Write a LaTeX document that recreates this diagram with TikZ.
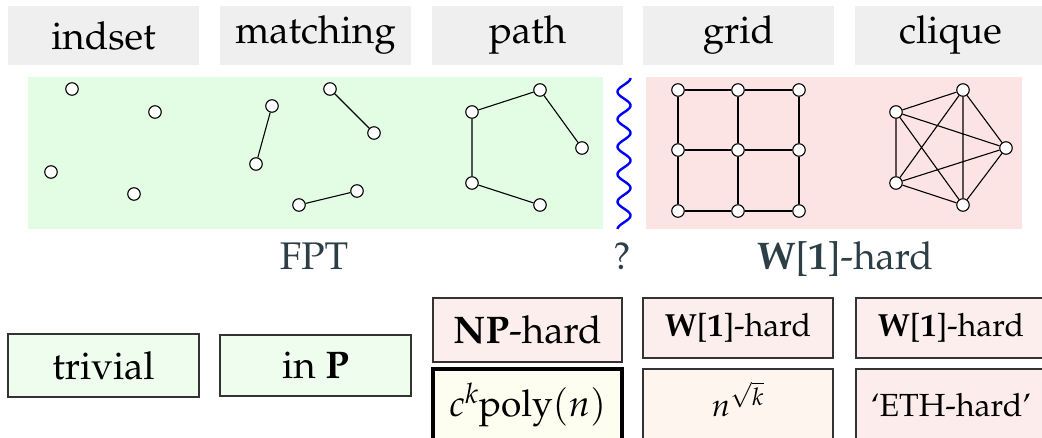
\documentclass[tikz,border=0pt]{standalone}
\usepackage[T1]{fontenc}
\usepackage{mathpazo}
\definecolor{hdrgray}{RGB}{239,239,239}
\definecolor{fptgreen}{RGB}{227,252,228}
\definecolor{hardred}{RGB}{253,228,228}
\definecolor{trivgreen}{RGB}{239,253,239}
\definecolor{nppink}{RGB}{253,238,238}
\definecolor{ivory}{RGB}{254,254,240}
\definecolor{seashell}{RGB}{254,245,239}
\definecolor{ethpink}{RGB}{253,236,236}
\definecolor{bordergray}{RGB}{51,51,51}
\definecolor{slate}{RGB}{44,62,70}
\newcommand{\bigfont}{\fontsize{38.5}{42}\selectfont}
\newcommand{\mathfont}{\fontsize{37}{40}\selectfont}
\newcommand{\smallfont}{\fontsize{32}{35}\selectfont}
\begin{document}
\begin{tikzpicture}[x=1pt,y=-1pt,
  hdr/.style={fill=hdrgray, minimum width=191pt, minimum height=59pt, inner sep=0pt, font=\bigfont},
  gv/.style={circle, draw=black, fill=white, minimum size=12.5pt, inner sep=0pt, line width=1.1pt},
  ge/.style={line width=1.1pt},
  res/.style={draw=bordergray, line width=2.6pt, inner sep=0pt, minimum width=189pt},
  low/.style={minimum height=74pt, text height=30pt, text depth=8pt},
  lbl/.style={text=slate, font=\bigfont, anchor=base}]
\useasboundingbox (0,0) rectangle (1042,438);
% headers
\node[hdr] (h1) at (103.5,35.5) {indset};
\node[hdr] (h2) at (315.5,35.5) {matching};
\node[hdr] (h3) at (527.5,35.5) {path};
\node[hdr] (h4) at (738.5,35.5) {grid};
\node[hdr] (h5) at (950.5,35.5) {clique};
% regions
\fill[fptgreen] (28,77) rectangle (603,229);
\fill[hardred] (646,77) rectangle (1022,229);
% wave
\draw[blue, line width=2.4pt] plot[domain=78:229, samples=160, variable=\t] ({624+6.5*sin((\t-78)*13.09+90)}, \t);
% indset
\node[gv] (i1) at (72,89) {};
\node[gv] (i2) at (155,112) {};
\node[gv] (i3) at (51,172) {};
\node[gv] (i4) at (134,194) {};
% matching
\node[gv] (m1) at (272,106) {};
\node[gv] (m2) at (256,164) {};
\node[gv] (m3) at (330,89) {};
\node[gv] (m4) at (374,133) {};
\node[gv] (m5) at (299,205) {};
\node[gv] (m6) at (357,191) {};
\draw[ge] (m1) -- (m2) (m3) -- (m4) (m5) -- (m6);
% path
\node[gv] (p1) at (472,112) {};
\node[gv] (p2) at (540,90) {};
\node[gv] (p3) at (582,148) {};
\node[gv] (p4) at (472,183) {};
\node[gv] (p5) at (540,205) {};
\draw[ge] (p3) -- (p2) -- (p1) -- (p4) -- (p5);
% grid
\foreach \c/\x in {1/678,2/738,3/799}{
  \foreach \r/\y in {1/90,2/150,3/211}{
    \node[gv] (g\c\r) at (\x,\y) {};
  }
}
\draw[ge] (g11) -- (g21) -- (g31) (g12) -- (g22) -- (g32) (g13) -- (g23) -- (g33)
          (g11) -- (g12) -- (g13) (g21) -- (g22) -- (g23) (g31) -- (g32) -- (g33);
% clique
\node[gv] (c1) at (963,90) {};
\node[gv] (c2) at (896,112) {};
\node[gv] (c3) at (1006,148) {};
\node[gv] (c4) at (896,183) {};
\node[gv] (c5) at (963,205) {};
\draw[ge] (c1) -- (c2) (c1) -- (c3) (c1) -- (c4) (c1) -- (c5)
          (c2) -- (c3) (c2) -- (c4) (c2) -- (c5)
          (c3) -- (c4) (c3) -- (c5) (c4) -- (c5);
% labels
\node[lbl] (fpt) at (314,270) {FPT};
\node[lbl] (q) at (622,270) {?};
\node[lbl] (w1) at (845,270) {\textbf{W}[\textbf{1}]-hard};
% results
\node[res, fill=trivgreen, minimum width=191pt, minimum height=63pt, font=\bigfont] (r1) at (103.5,365.5) {trivial};
\node[res, fill=trivgreen, minimum width=191pt, minimum height=61pt, font=\bigfont] (r2) at (315.5,365.5) {in \textbf{P}};
\node[res, fill=nppink, minimum height=64pt, font=\bigfont] (r3) at (527.5,330) {\textbf{NP}-hard};
\node[res, low, draw=black, line width=3.2pt, fill=ivory, font=\mathfont] (r3b) at (527.5,406) {$c^k$poly$(n)$};
\node[res, fill=nppink, minimum width=190pt, minimum height=60pt, font=\smallfont] (r4) at (738,328) {\textbf{W}[\textbf{1}]-hard};
\node[res, low, fill=seashell, minimum width=190pt, font=\smallfont] (r4b) at (738,406) {$n^{\sqrt{k}}$};
\node[res, fill=nppink, minimum width=190pt, minimum height=60pt, font=\smallfont] (r5) at (951,328) {\textbf{W}[\textbf{1}]-hard};
\node[res, low, fill=ethpink, minimum width=190pt, font=\smallfont] (r5b) at (951,406) {`ETH-hard'};
\end{tikzpicture}
\end{document}
